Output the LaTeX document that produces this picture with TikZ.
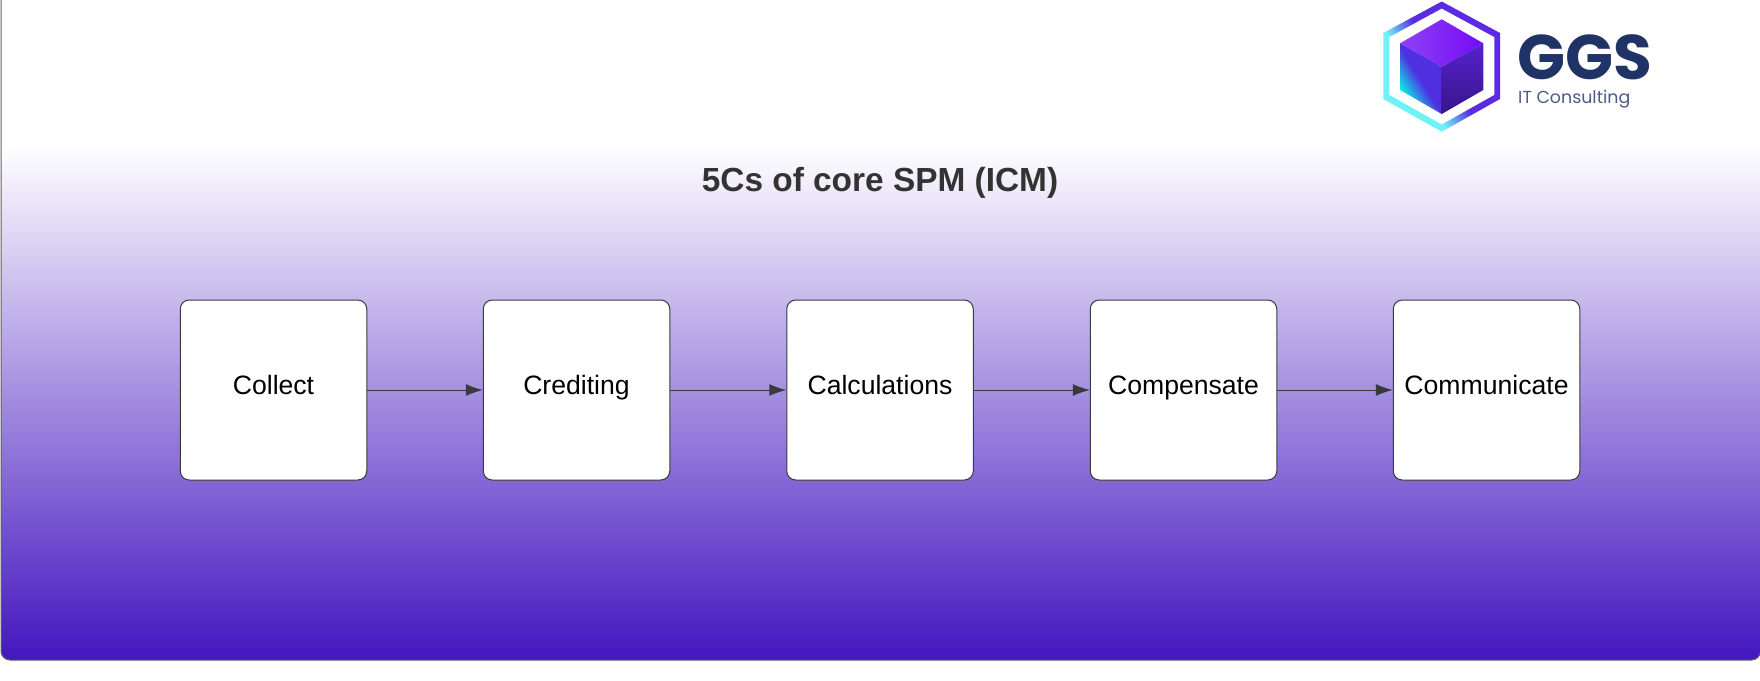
\documentclass[tikz,border=0pt]{standalone}
\usepackage{fontspec}
\setmainfont{Liberation Sans}
\newfontfamily\logofont{Poppins}
\usetikzlibrary{arrows.meta}
\definecolor{deep}{HTML}{4316BF}
\definecolor{edge}{HTML}{3A3A3A}
\definecolor{navy}{HTML}{1F3366}
\definecolor{ringpurple}{HTML}{5A2BE2}
\definecolor{ringcyan}{HTML}{6FF2F6}
\definecolor{cubeblue}{HTML}{4F2FE0}
\definecolor{facecyan}{HTML}{0CE8E8}
\definecolor{topleft}{HTML}{8E42F6}
\definecolor{topright}{HTML}{760AF8}
\definecolor{righttop}{HTML}{5522CC}
\definecolor{rightbottom}{HTML}{38158C}
\pgfdeclarehorizontalshading{ringshade}{100bp}{color(0bp)=(ringcyan); color(38bp)=(ringcyan); color(50bp)=(ringpurple); color(100bp)=(ringpurple)}
\pgfdeclarehorizontalshading{leftface}{100bp}{color(0bp)=(facecyan); color(29bp)=(facecyan); color(49bp)=(cubeblue); color(100bp)=(cubeblue)}
\tikzset{
  stagebox/.style={draw=edge,line width=1pt,fill=white,rounded corners=9pt,minimum width=186.5pt,minimum height=180pt,inner sep=0pt,text height=20pt,text depth=11pt,font=\fontsize{26.6pt}{30pt}\selectfont,text=black},
  flow/.style={draw=edge,line width=1pt,-{Latex[length=17pt,width=12pt]}},
  paneledge/.style={draw=edge!80,line width=1pt},
}
\begin{document}
\begin{tikzpicture}[x=1pt,y=-1pt]
\useasboundingbox (0,0) rectangle (1760,680);
% panel
\begin{scope}
  \clip[rounded corners=9pt] (1,-30) rectangle (1760.5,660);
  \fill[white] (0,-30) rectangle (1761,146);
  \shade[top color=white,bottom color=deep] (0,145) rectangle (1761,660);
\end{scope}
\draw[paneledge,rounded corners=9pt] (1,-30) rectangle (1760.5,660);
% title
\node[anchor=base,inner sep=0pt,font=\fontsize{33.4pt}{40pt}\selectfont\bfseries,text=black!80] (title) at (880,191) {5Cs of core SPM (ICM)};
% stages
\node[stagebox] (collect) at (273.5,390) {Collect};
\node[stagebox] (crediting) at (576.5,390) {Crediting};
\node[stagebox] (calc) at (880,390) {Calculations};
\node[stagebox] (comp) at (1183.5,390) {Compensate};
\node[stagebox] (comm) at (1486.5,390) {Communicate};
\draw[flow] (collect) -- (crediting);
\draw[flow] (crediting) -- (calc);
\draw[flow] (calc) -- (comp);
\draw[flow] (comp) -- (comm);
% logo ring
\shade[shading=ringshade,shading angle=32,even odd rule]
    (1441.7,1.5) -- (1500,33) -- (1500,99) -- (1441.7,131.7) -- (1383.3,99) -- (1383.3,33) -- cycle
    (1441.7,8.5) -- (1494.3,37) -- (1494.3,95) -- (1441.7,124.5) -- (1389.3,95) -- (1389.3,37) -- cycle;
% cube
\shade[left color=topleft,right color=topright] (1441.7,19.3) -- (1483.3,43.3) -- (1441.7,66.7) -- (1400,43.3) -- cycle;
\shade[shading=leftface,shading angle=32] (1400,43.3) -- (1441.7,66.7) -- (1441.7,114) -- (1400,90) -- cycle;
\shade[top color=righttop,bottom color=rightbottom] (1483.3,43.3) -- (1483.3,90) -- (1441.7,114) -- (1441.7,66.7) -- cycle;
% logo text
\node[anchor=base west,inner sep=0pt,font=\logofont\bfseries\fontsize{63pt}{63pt}\selectfont,text=navy] (ggs) at (1517,79) {GGS};
\node[anchor=base west,inner sep=0pt,font=\logofont\fontsize{17.4pt}{20pt}\selectfont,text=navy!80!white] (itc) at (1518,103) {IT Consulting};
\end{tikzpicture}
\end{document}
